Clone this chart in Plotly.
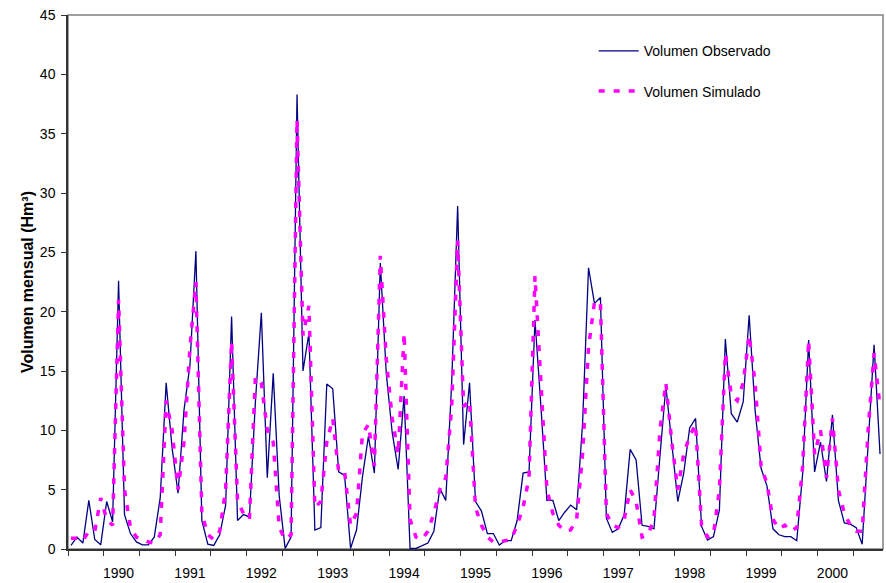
import plotly.graph_objects as go

# Monthly volumes (Hm³), one value per month
observado = [
    0.3, 1.0, 0.5, 4.1, 0.8, 0.35, 4.0, 2.3, 22.6, 2.9, 1.3, 0.6,
    0.35, 0.35, 1.0, 4.3, 14.0, 8.5, 4.7, 11.7, 15.5, 25.1, 2.4, 0.4,
    0.3, 1.2, 3.7, 19.6, 2.4, 2.9, 2.7, 12.4, 19.9, 6.0, 14.8, 4.5,
    0.05, 1.0, 38.3, 15.0, 18.2, 1.6, 1.8, 13.9, 13.5, 6.5, 6.2, 0.05,
    1.6, 6.1, 9.5, 6.4, 24.1, 14.8, 9.8, 6.7, 12.9, 0.05, 0.05, 0.3,
    0.5, 1.5, 5.1, 4.1, 14.0, 28.9, 8.8, 14.0, 4.0, 3.2, 1.3, 1.3,
    0.34, 0.7, 0.7, 2.4, 6.4, 6.5, 19.3, 12.0, 4.1, 4.1, 2.4, 3.1,
    3.7, 3.3, 10.6, 23.7, 20.7, 21.2, 2.6, 1.4, 1.7, 2.9, 8.4, 7.5,
    2.0, 1.9, 1.7, 7.8, 13.7, 8.9, 4.0, 6.4, 10.2, 11.0, 1.9, 0.76,
    1.04, 3.3, 17.7, 11.4, 10.7, 12.4, 19.7, 11.7, 6.8, 5.3, 1.7, 1.2,
    1.04, 1.04, 0.7, 6.4, 17.6, 6.5, 9.0, 5.7, 11.3, 4.1, 2.2, 2.1,
    1.8, 0.4, 8.9, 17.2, 8.0,
]

simulado = [
    0.9, 0.9, 0.7, 1.5, 1.5, 4.3, 2.5, 2.0, 21.0, 5.0, 1.8, 1.0,
    0.8, 0.6, 0.5, 1.2, 12.5, 10.0, 5.0, 9.0, 17.0, 22.5, 3.0, 1.2,
    0.8, 1.5, 5.0, 17.5, 4.0, 3.0, 2.5, 14.5, 14.0, 10.0, 9.0, 1.8,
    0.8, 1.2, 36.2, 18.0, 20.5, 3.5, 4.0, 9.0, 11.0, 6.5, 6.5, 2.0,
    3.0, 9.7, 10.5, 7.0, 24.7, 16.0, 11.0, 8.0, 18.2, 2.5, 1.0, 0.8,
    1.5, 3.0, 5.0, 6.0, 12.0, 26.0, 12.0, 12.5, 3.5, 2.0, 1.0, 0.6,
    0.6, 0.7, 0.8, 2.0, 3.5, 6.0, 23.0, 14.0, 5.0, 3.0, 2.0, 1.5,
    1.6, 2.5, 8.0, 17.0, 20.8, 20.8, 3.0, 2.0, 1.8, 2.5, 5.0, 4.0,
    1.0, 1.2, 2.5, 10.0, 14.0, 9.0, 5.0, 8.0, 9.5, 10.5, 2.0, 1.0,
    1.2, 5.0, 16.5, 13.0, 12.5, 14.0, 18.0, 14.0, 7.0, 5.5, 2.5, 1.7,
    2.0, 1.5, 1.8, 7.0, 17.6, 8.0, 10.0, 6.0, 11.0, 5.0, 3.0, 2.0,
    1.5, 1.5, 10.0, 16.5, 12.0,
]

anios = ["1990", "1991", "1992", "1993", "1994", "1995",
         "1996", "1997", "1998", "1999", "2000"]

meses = list(range(len(observado)))
n = len(meses)

# year label sits on the January of each year; tick marks every six months
pos_anios = [8 + 12 * k for k in range(len(anios))]
marcas = [-0.5 + 6 * k for k in range(int((n - 0.5) // 6) + 1)]

FONT = "Liberation Sans, Arial, sans-serif"

fig = go.Figure()
fig.add_trace(go.Scatter(
    x=meses, y=observado, mode="lines", name="Volumen Observado",
    line=dict(color="#000080", width=1.3),
    legendgroup="a",
))
fig.add_trace(go.Scatter(
    x=meses, y=simulado, mode="lines", name="Volumen Simulado",
    line=dict(color="#FF00FF", width=3.5, dash="6px,9px"),
    legendgroup="b",
))

# plot frame: grey on top/right, axis lines drawn dark on left/bottom
fig.add_shape(type="rect", xref="x domain", yref="y domain",
              x0=0, x1=1, y0=0, y1=1,
              line=dict(color="#808080", width=1.5), layer="below")

fig.update_layout(
    width=886, height=583,
    margin=dict(l=68, r=3, t=15, b=34),
    paper_bgcolor="white", plot_bgcolor="white",
    font=dict(family=FONT, size=14, color="black"),
    showlegend=True,
    legend=dict(
        x=0.645, y=0.962, xanchor="left", yanchor="top",
        bgcolor="rgba(0,0,0,0)", borderwidth=0,
        font=dict(family=FONT, size=14, color="black"),
        tracegroupgap=19, itemwidth=40,
    ),
    xaxis=dict(
        range=[-0.5, n - 0.5], automargin=False,
        tickmode="array", tickvals=pos_anios, ticktext=anios,
        ticks="", ticklabelstandoff=10,
        minor=dict(tickmode="array", tickvals=marcas, ticks="outside",
                   ticklen=5, tickwidth=1, tickcolor="#333333"),
        showline=True, linecolor="#333333", linewidth=1.5,
        showgrid=False, zeroline=False,
        tickfont=dict(family=FONT, size=14, color="black"),
    ),
    yaxis=dict(
        range=[0, 45], automargin=False,
        tickmode="array", tickvals=list(range(0, 46, 5)),
        ticks="outside", ticklen=5, tickwidth=1, tickcolor="#333333",
        ticklabelstandoff=3,
        showline=True, linecolor="#333333", linewidth=1.5,
        showgrid=False, zeroline=False,
        tickfont=dict(family=FONT, size=14, color="black"),
        title=dict(text="<b>Volumen mensual (Hm³)</b>",
                   font=dict(family=FONT, size=16, color="black"),
                   standoff=2),
    ),
)

fig.write_html("out.html")
